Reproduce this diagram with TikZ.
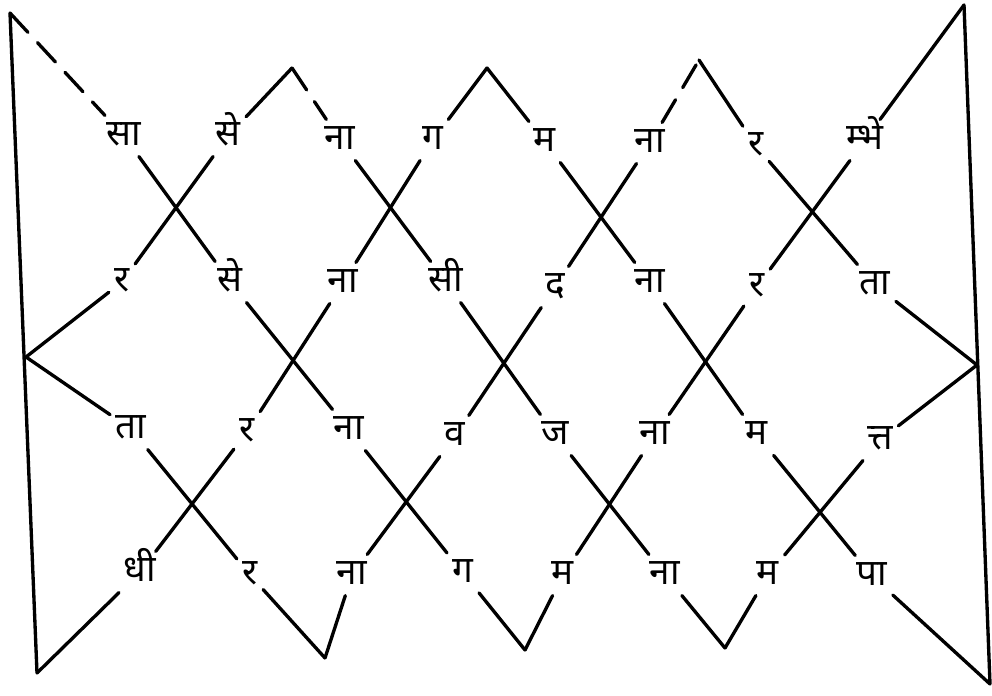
\documentclass[tikz,border=0pt]{standalone}
\usepackage{fontspec}
\usepackage{tkz-euclide}
\newfontfamily\deva[Script=Devanagari]{Noto Sans}

\begin{document}
\begin{tikzpicture}[
    syl/.style={font=\deva\fontsize{21}{24}\selectfont,text height=14pt,text depth=3pt,inner sep=3pt},
    zig/.style={line width=1.9pt,line cap=round},
    broken/.style={zig,dash pattern=on 15pt off 8pt}]
            \tkzDefPoint(0,0){O}
            \tkzDefPoint(19.84,-13.92){E}
            \useasboundingbox (O) rectangle (E);
            % frame corners and turning points
            \tkzDefPoint(0.20,-0.26){TL}
            \tkzDefPoint(0.74,-13.46){BL}
            \tkzDefPoint(19.28,-0.10){TR}
            \tkzDefPoint(19.80,-13.68){BR}
            \tkzDefPoint(0.52,-7.14){L}
            \tkzDefPoint(19.54,-7.30){R}
            \tkzDefPoint(5.84,-1.36){P1}
            \tkzDefPoint(9.74,-1.36){P2}
            \tkzDefPoint(13.98,-1.20){P3}
            \tkzDefPoint(6.50,-13.16){V1}
            \tkzDefPoint(10.50,-13.00){V2}
            \tkzDefPoint(14.50,-12.96){V3}
            % syllables, row by row
            \node[syl] (A1) at (2.48,-2.72) {सा};
            \node[syl] (A2) at (4.56,-2.72) {से};
            \node[syl] (A3) at (6.80,-2.80) {ना};
            \node[syl] (A4) at (8.66,-2.80) {ग};
            \node[syl] (A5) at (10.90,-2.84) {म};
            \node[syl] (A6) at (13.00,-2.86) {ना};
            \node[syl] (A7) at (15.12,-2.92) {र};
            \node[syl] (A8) at (17.30,-2.80) {म्भे};
            \node[syl] (B1) at (2.44,-5.64) {र};
            \node[syl] (B2) at (4.60,-5.64) {से};
            \node[syl] (B3) at (6.86,-5.66) {ना};
            \node[syl] (B4) at (8.92,-5.64) {सी};
            \node[syl] (B5) at (11.10,-5.74) {द};
            \node[syl] (B6) at (13.00,-5.66) {ना};
            \node[syl] (B7) at (15.14,-5.74) {र};
            \node[syl] (B8) at (17.50,-5.70) {ता};
            \node[syl] (C1) at (2.62,-8.58) {ता};
            \node[syl] (C2) at (4.94,-8.64) {र};
            \node[syl] (C3) at (6.98,-8.60) {ना};
            \node[syl] (C4) at (9.10,-8.72) {व};
            \node[syl] (C5) at (11.10,-8.70) {ज};
            \node[syl] (C6) at (13.10,-8.70) {ना};
            \node[syl] (C7) at (15.14,-8.70) {म};
            \node[syl] (C8) at (17.60,-8.80) {त्त};
            \node[syl] (D1) at (2.80,-11.44) {धी};
            \node[syl] (D2) at (5.00,-11.50) {र};
            \node[syl] (D3) at (7.04,-11.50) {ना};
            \node[syl] (D4) at (9.26,-11.46) {ग};
            \node[syl] (D5) at (11.26,-11.50) {म};
            \node[syl] (D6) at (13.30,-11.50) {ना};
            \node[syl] (D7) at (15.36,-11.50) {म};
            \node[syl] (D8) at (17.44,-11.52) {पा};
            % frame
            \draw[zig] (TL) -- (BL);
            \draw[zig] (TR) -- (BR);
            % falling strokes
            \draw[broken] (TL) -- (A1);
            \draw[zig] (A1) -- (B2) -- (C3) -- (D4) -- (V2);
            \draw[broken] (P1) -- (A3);
            \draw[zig] (A3) -- (B4) -- (C5) -- (D6) -- (V3);
            \draw[zig] (P2) -- (A5) -- (B6) -- (C7) -- (D8) -- (BR);
            \draw[zig] (P3) -- (A7) -- (B8) -- (R);
            \draw[zig] (L) -- (C1) -- (D2) -- (V1);
            % rising strokes
            \draw[zig] (L) -- (B1) -- (A2) -- (P1);
            \draw[zig] (BL) -- (D1) -- (C2) -- (B3) -- (A4) -- (P2);
            \draw[zig] (V1) -- (D3) -- (C4) -- (B5) -- (A6);
            \draw[broken] (A6) -- (P3);
            \draw[zig] (V2) -- (D5) -- (C6) -- (B7) -- (A8) -- (TR);
            \draw[zig] (V3) -- (D7) -- (C8) -- (R);
        \end{tikzpicture}
\end{document}
